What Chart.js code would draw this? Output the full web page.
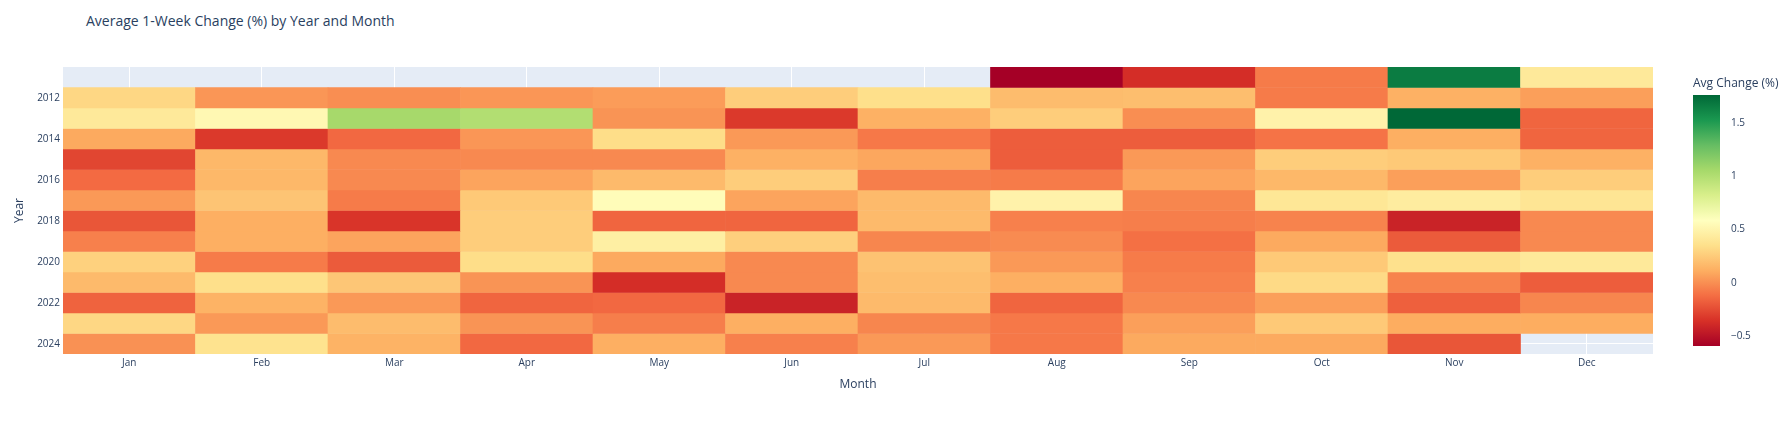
<!DOCTYPE html>
<html>
<head>
<meta charset="utf-8">
<script src="https://cdn.jsdelivr.net/npm/chart.js@4.4.1/dist/chart.umd.min.js"></script>
<style>
  html, body { margin: 0; padding: 0; background: #fff; }
  #wrap { position: relative; width: 1792px; height: 429px; font-family: "Open Sans", sans-serif; }
  #title { position: absolute; left: 86px; top: 10px; font-size: 14px; line-height: 22px; color: #2a3f5f; white-space: nowrap; }
  #heat { position: absolute; left: 0; top: 0; width: 1680px; height: 429px; }
  #bar { position: absolute; left: 1680px; top: 0; width: 112px; height: 429px; }
</style>
</head>
<body>
<div id="wrap">
  <div id="title">Average 1-Week Change (%) by Year and Month</div>
  <div id="heat"><canvas id="heatmap"></canvas></div>
  <div id="bar"><canvas id="colorbar"></canvas></div>
</div>
<script>
// categories
var months = ['Jan', 'Feb', 'Mar', 'Apr', 'May', 'Jun', 'Jul', 'Aug', 'Sep', 'Oct', 'Nov', 'Dec'];
var years = [2011, 2012, 2013, 2014, 2015, 2016, 2017, 2018, 2019, 2020, 2021, 2022, 2023, 2024];
var yearTicks = [2012, 2014, 2016, 2018, 2020, 2022, 2024];
var colorTicks = [-0.5, 0, 0.5, 1, 1.5];

// avg 1-week change (%) per month, one array per year
var v2011 = [null, null, null, null, null, null, null, -0.59, -0.37, -0.07, 1.66, 0.42];
var v2012 = [0.31, 0.03, 0.00, 0.03, 0.05, 0.26, 0.35, 0.18, 0.19, -0.07, 0.13, 0.06];
var v2013 = [0.42, 0.53, 1.05, 1.00, 0.02, -0.32, 0.13, 0.26, 0.00, 0.49, 1.76, -0.15];
var v2014 = [0.10, -0.32, -0.14, 0.03, 0.34, 0.04, -0.08, -0.18, -0.18, -0.10, 0.12, -0.15];
var v2015 = [-0.27, 0.16, -0.02, -0.02, -0.02, 0.13, 0.09, -0.18, 0.04, 0.26, 0.24, 0.13];
var v2016 = [-0.13, 0.16, -0.02, 0.08, 0.17, 0.26, -0.06, -0.07, 0.08, 0.16, 0.06, 0.26];
var v2017 = [0.04, 0.22, -0.07, 0.24, 0.56, 0.08, 0.17, 0.49, -0.03, 0.40, 0.44, 0.39];
var v2018 = [-0.21, 0.12, -0.34, 0.26, -0.15, -0.15, 0.17, -0.05, -0.06, -0.04, -0.42, -0.02];
var v2019 = [-0.05, 0.12, 0.08, 0.26, 0.46, 0.27, -0.03, -0.01, -0.11, 0.10, -0.19, -0.02];
var v2020 = [0.28, -0.07, -0.19, 0.34, 0.10, -0.02, 0.21, 0.04, -0.07, 0.24, 0.36, 0.42];
var v2021 = [0.17, 0.35, 0.23, 0.02, -0.37, -0.02, 0.19, 0.12, -0.05, 0.32, -0.04, -0.18];
var v2022 = [-0.16, 0.14, 0.04, -0.15, -0.14, -0.42, 0.17, -0.15, -0.02, 0.06, -0.17, -0.03];
var v2023 = [0.31, 0.04, 0.18, 0.02, -0.06, 0.12, -0.03, -0.08, 0.06, 0.24, 0.11, 0.11];
var v2024 = [0.01, 0.37, 0.14, -0.14, 0.12, -0.05, 0.04, -0.08, 0.10, 0.10, -0.21, null];
var avgChange = [v2011, v2012, v2013, v2014, v2015, v2016, v2017, v2018, v2019, v2020, v2021, v2022, v2023, v2024];

var allVals = [].concat.apply([], avgChange).filter(function(v) { return v !== null; });
var zMin = Math.min.apply(null, allVals);
var zMax = Math.max.apply(null, allVals);

// RdYlGn
var rdylgn = [
  [0, [165, 0, 38]], [0.1, [215, 48, 39]], [0.2, [244, 109, 67]], [0.3, [253, 174, 97]],
  [0.4, [254, 224, 139]], [0.5, [255, 255, 191]], [0.6, [217, 239, 139]], [0.7, [166, 217, 106]],
  [0.8, [102, 189, 99]], [0.9, [26, 152, 80]], [1, [0, 104, 55]]
];

function colorFor(v) {
  var t = (v - zMin) / (zMax - zMin);
  for (var i = 1; i < rdylgn.length; i++) {
    if (t <= rdylgn[i][0]) {
      var a = rdylgn[i - 1], b = rdylgn[i];
      var f = (t - a[0]) / (b[0] - a[0]);
      var c = a[1].map(function(x, k) { return Math.round(x + (b[1][k] - x) * f); });
      return 'rgb(' + c.join(',') + ')';
    }
  }
  return 'rgb(' + rdylgn[rdylgn.length - 1][1].join(',') + ')';
}

Chart.defaults.font.family = '"Open Sans", sans-serif';
Chart.defaults.color = '#2a3f5f';

var plotBg = {
  id: 'plotBg',
  beforeDraw: function(chart) {
    var a = chart.chartArea, c = chart.ctx;
    c.save();
    c.fillStyle = '#E5ECF6';
    c.fillRect(a.left, a.top, a.right - a.left, a.bottom - a.top);
    c.restore();
  }
};

var heatSets = years.map(function(yr, i) {
  return {
    label: String(yr),
    data: avgChange[i].map(function(v) { return v === null ? null : [yr - 0.5, yr + 0.5]; }),
    backgroundColor: avgChange[i].map(function(v) { return v === null ? 'rgba(0,0,0,0)' : colorFor(v); }),
    borderWidth: 0,
    grouped: false,
    barPercentage: 1,
    categoryPercentage: 1
  };
});

new Chart(document.getElementById('heatmap'), {
  type: 'bar',
  data: { labels: months, datasets: heatSets },
  plugins: [plotBg],
  options: {
    responsive: true,
    maintainAspectRatio: false,
    animation: false,
    layout: { padding: { top: 67, right: 27, left: 0, bottom: 0 } },
    plugins: { legend: { display: false }, tooltip: { enabled: false } },
    scales: {
      x: {
        grid: { offset: false, color: '#ffffff', lineWidth: 1, drawTicks: false },
        border: { display: false },
        ticks: { font: { size: 10 }, padding: 3 },
        title: { display: true, text: 'Month', font: { size: 12 }, padding: { top: 0, bottom: 37 } },
        afterFit: function(s) { s.height = 75; }
      },
      y: {
        type: 'linear',
        reverse: true,
        min: 2010.5,
        max: 2024.5,
        grid: { color: '#ffffff', lineWidth: 1, drawTicks: false },
        border: { display: false },
        ticks: { font: { size: 10 }, padding: 3, callback: function(v) { return String(v); } },
        afterBuildTicks: function(s) { s.ticks = yearTicks.map(function(v) { return { value: v }; }); },
        title: { display: true, text: 'Year', font: { size: 12 }, padding: { top: 12, bottom: 0 } },
        afterFit: function(s) { s.width = 63; }
      }
    }
  }
});

new Chart(document.getElementById('colorbar'), {
  type: 'bar',
  data: {
    labels: [''],
    datasets: [{
      data: [[zMin, zMax]],
      borderWidth: 0,
      barPercentage: 1,
      categoryPercentage: 1,
      backgroundColor: function(ctx) {
        var chart = ctx.chart, ys = chart.scales.y;
        if (!chart.chartArea || !ys) return null;
        var g = chart.ctx.createLinearGradient(0, ys.getPixelForValue(zMin), 0, ys.getPixelForValue(zMax));
        rdylgn.forEach(function(s) { g.addColorStop(s[0], 'rgb(' + s[1].join(',') + ')'); });
        return g;
      }
    }]
  },
  options: {
    responsive: true,
    maintainAspectRatio: false,
    animation: false,
    layout: { padding: { top: 0, right: 0, left: 13, bottom: 83 } },
    plugins: {
      legend: { display: false },
      tooltip: { enabled: false },
      title: { display: true, text: 'Avg Change (%)', align: 'start', font: { size: 12, weight: 'normal' }, padding: { top: 76, bottom: 4.6 } }
    },
    scales: {
      x: { display: false },
      y: {
        position: 'right',
        min: zMin,
        max: zMax,
        grid: { display: false },
        border: { display: false },
        ticks: {
          font: { size: 10 },
          padding: 3,
          callback: function(v) { return v < 0 ? '\u2212' + Math.abs(v) : String(v); }
        },
        afterBuildTicks: function(s) { s.ticks = colorTicks.map(function(v) { return { value: v }; }); },
        afterFit: function(s) { s.width = 72; }
      }
    }
  }
});
</script>
</body>
</html>
